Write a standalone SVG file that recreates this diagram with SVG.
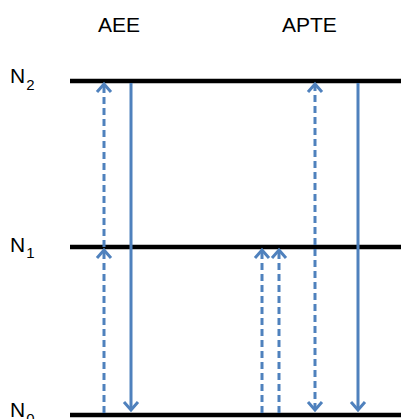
<svg xmlns="http://www.w3.org/2000/svg" width="401" height="419" viewBox="0 0 401 419">
<style>
.lvl{stroke:#000;stroke-width:4.5;fill:none}
.t{font-family:"Liberation Sans",Arial,sans-serif;font-size:21px;fill:#000}
.s{font-size:15px}
.a{stroke:#4F81BD;stroke-width:3;fill:none}
.d{stroke-dasharray:7,4}
.head{marker-end:url(#ah)}
</style>
<defs>
<marker id="ah" markerUnits="userSpaceOnUse" viewBox="-10 -9 12 18" markerWidth="12" markerHeight="18" refX="0" refY="0" orient="auto" overflow="visible">
<path d="M -8 -7 L 0 0 L -8 7" stroke="#4F81BD" stroke-width="3" fill="none"/>
</marker>
<marker id="as" markerUnits="userSpaceOnUse" viewBox="-10 -9 12 18" markerWidth="12" markerHeight="18" refX="0" refY="0" orient="auto-start-reverse" overflow="visible">
<path d="M -8 -7 L 0 0 L -8 7" stroke="#4F81BD" stroke-width="3" fill="none"/>
</marker>
</defs>
<g id="label-AEE"><text class="t" x="98" y="32">AEE</text></g>
<g id="label-APTE"><text class="t" x="282" y="32">APTE</text></g>
<g id="level-N2"><line class="lvl" x1="70" y1="81" x2="401" y2="81"/><text class="t" x="10" y="83">N<tspan class="s" dx="1" dy="7">2</tspan></text></g>
<g id="level-N1"><line class="lvl" x1="70" y1="247" x2="401" y2="247"/><text class="t" x="10" y="252">N<tspan class="s" dx="1" dy="6">1</tspan></text></g>
<g id="level-N0"><line class="lvl" x1="70" y1="415" x2="401" y2="415"/><text class="t" x="10" y="417">N<tspan class="s" dx="1" dy="7">0</tspan></text></g>
<g id="connectors">
<line class="a d head" x1="104" y1="413" x2="104" y2="250"/>
<line class="a d head" x1="104" y1="247" x2="104" y2="84"/>
<line class="a head" x1="131" y1="83" x2="131" y2="410"/>
<line class="a d head" x1="262" y1="413" x2="262" y2="250"/>
<line class="a d head" x1="279" y1="413" x2="279" y2="250"/>
<line class="a d" x1="315" y1="84" x2="315" y2="410" marker-start="url(#as)" marker-end="url(#as)"/>
<line class="a head" x1="358" y1="83" x2="358" y2="410"/>
</g>
</svg>
